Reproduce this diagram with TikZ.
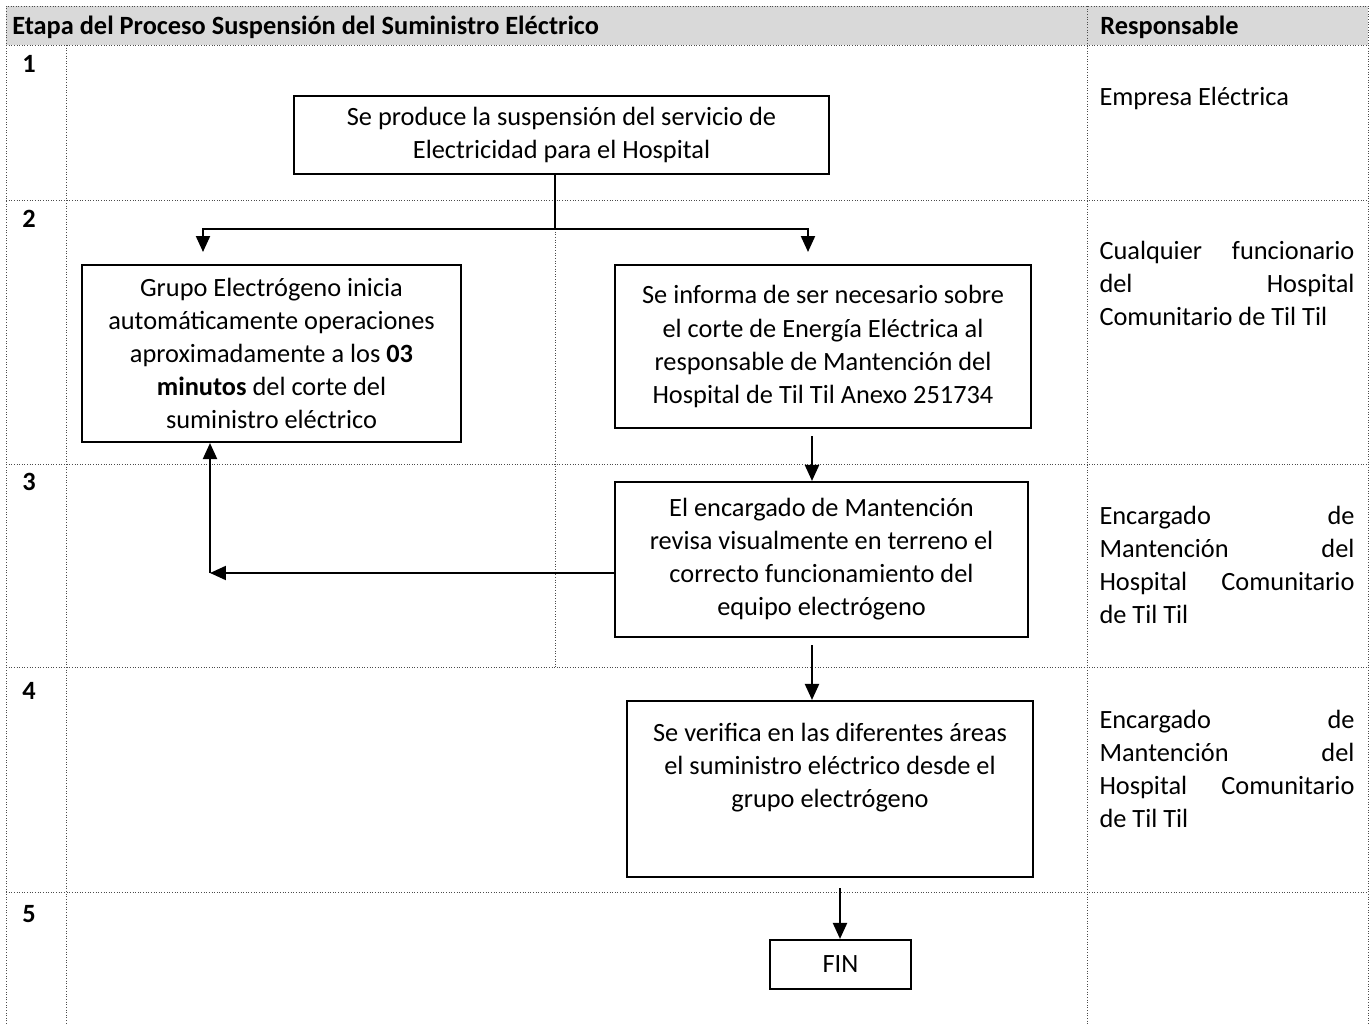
\documentclass[tikz,border=0pt]{standalone}
\usepackage{fontspec}
\setmainfont{Carlito}
\usetikzlibrary{arrows.meta}

\begin{document}
\begin{tikzpicture}[x=0.02cm, y=-0.02cm,
  every node/.style={font=\fontsize{15}{18.8}\selectfont},
  grid/.style={densely dotted, black!70, line width=0.5pt},
  box/.style={draw, line width=1.2pt, align=center, inner sep=0pt},
  arr/.style={line width=1.2pt, -{Triangle[length=0.32cm,width=0.28cm]}},
  resp/.style={text width=5.1cm, align=flush left, inner sep=0pt},
  stage/.style={font=\fontsize{15}{18.8}\selectfont\bfseries, anchor=west, inner sep=0pt}]
\useasboundingbox (0,0) rectangle (1370,1024);

% table
\fill[black!15] (6,6) rectangle (1368,45);
\draw[grid] (6,1024) -- (6,6) -- (1368,6) -- (1368,1024);
\foreach \y in {45,200,464,667,892} {
  \draw[grid] (6,\y) -- (1368,\y);
}
\draw[grid] (66,45) -- (66,1024);
\draw[grid] (1087,6) -- (1087,1024);
\draw[grid] (555,200) -- (555,667);

\node[stage] (head) at (12,27) {Etapa del Proceso Suspensión del Suministro Eléctrico};
\node[stage] (headr) at (1100,27) {Responsable};

\node[stage] (s1) at (22,64) {1};
\node[stage] (s2) at (22,219) {2};
\node[stage] (s3) at (22,482) {3};
\node[stage] (s4) at (22,691) {4};
\node[stage] (s5) at (22,914) {5};

% boxes
\node[box, minimum width=10.7cm, minimum height=1.56cm] (box1) at (561.5,135)
  {Se produce la suspensión del servicio de\\Electricidad para el Hospital};
\node[box, minimum width=7.58cm, minimum height=3.54cm] (box2l) at (271.5,353.5)
  {Grupo Electrógeno inicia\\automáticamente operaciones\\aproximadamente a los \textbf{03}\\\textbf{minutos} del corte del\\suministro eléctrico};
\node[box, minimum width=8.32cm, minimum height=3.26cm] (box2r) at (823,346.5)
  {Se informa de ser necesario sobre\\el corte de Energía Eléctrica al\\responsable de Mantención del\\Hospital de Til Til Anexo 251734};
\node[box, minimum width=8.26cm, minimum height=3.1cm] (box3) at (821.5,559.5)
  {El encargado de Mantención\\revisa visualmente en terreno el\\correcto funcionamiento del\\equipo electrógeno};
\node[box, minimum width=8.12cm, minimum height=3.52cm] (box4) at (830,789)
  {Se verifica en las diferentes áreas\\el suministro eléctrico desde el\\grupo electrógeno\\[8pt]~};
\node[box, minimum width=2.82cm, minimum height=0.98cm] (fin) at (840.5,964.5) {FIN};

% responsables
\node[resp] (r1) at (1227,98) {Empresa Eléctrica};
\node[resp] (r2) at (1227,283) {Cualquier\hfill funcionario\\del\hfill Hospital\\Comunitario de Til Til};
\node[resp] (r3) at (1227,565) {Encargado\hfill de\\Mantención\hfill del\\Hospital\hfill Comunitario\\de Til Til};
\node[resp] (r4) at (1227,769) {Encargado\hfill de\\Mantención\hfill del\\Hospital\hfill Comunitario\\de Til Til};

% connectors
\coordinate (fork) at (555,229);
\coordinate (tipl) at (203,252);
\coordinate (tipr) at (808,252);
\draw[line width=1.2pt] (box1.south -| fork) -- (fork);
\draw[arr] (fork) -| (tipl);
\draw[arr] (fork) -| (tipr);

\coordinate (c23) at (812,436);
\draw[arr] (c23) -- (c23 |- box3.north);

\coordinate (bend) at (210,573);
\draw[arr] (bend -| box3.west) -- (bend);
\draw[arr] (bend) -- (bend |- box2l.south);

\coordinate (c34) at (812,645);
\draw[arr] (c34) -- (c34 |- box4.north);

\coordinate (c45) at (840,888);
\draw[arr] (c45) -- (c45 |- fin.north);
\end{tikzpicture}
\end{document}
